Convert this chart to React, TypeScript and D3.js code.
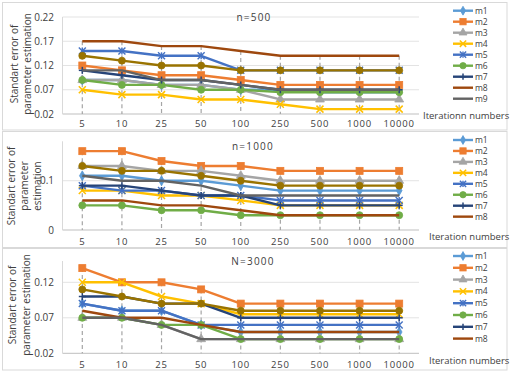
import React from "react";
import * as d3 from "d3";

const categories = ["5", "10", "25", "50", "100", "250", "500", "1000", "10000"];
const seriesNames = ["m1", "m2", "m3", "m4", "m5", "m6", "m7", "m8", "m9", "m10"];
const colors = ["#5B9BD5", "#ED7D31", "#A5A5A5", "#FFC000", "#4472C4", "#70AD47", "#264478", "#9E480E", "#636363", "#997300"];
const markers = ["diamond", "square", "triangle", "x", "star", "circle", "plus", "none", "none", "circle"];

// n = 500
const top_m1 = [0.09, 0.09, 0.08, 0.08, 0.07, 0.07, 0.065, 0.065, 0.065];
const top_m2 = [0.12, 0.11, 0.10, 0.10, 0.09, 0.08, 0.08, 0.08, 0.08];
const top_m3 = [0.09, 0.09, 0.08, 0.08, 0.07, 0.05, 0.05, 0.05, 0.05];
const top_m4 = [0.07, 0.06, 0.06, 0.05, 0.05, 0.04, 0.03, 0.03, 0.03];
const top_m5 = [0.15, 0.15, 0.14, 0.14, 0.11, 0.11, 0.11, 0.11, 0.11];
const top_m6 = [0.09, 0.08, 0.08, 0.07, 0.07, 0.065, 0.065, 0.065, 0.065];
const top_m7 = [0.11, 0.10, 0.09, 0.09, 0.08, 0.07, 0.07, 0.07, 0.07];
const top_m8 = [0.17, 0.17, 0.16, 0.16, 0.15, 0.14, 0.14, 0.14, 0.14];
const top_m9 = [0.11, 0.11, 0.09, 0.09, 0.08, 0.07, 0.07, 0.07, 0.07];
const top_m10 = [0.14, 0.13, 0.12, 0.12, 0.11, 0.11, 0.11, 0.11, 0.11];

// n = 1000
const mid_m1 = [0.11, 0.11, 0.10, 0.10, 0.09, 0.08, 0.08, 0.08, 0.08];
const mid_m2 = [0.16, 0.16, 0.14, 0.13, 0.13, 0.12, 0.12, 0.12, 0.12];
const mid_m3 = [0.13, 0.13, 0.12, 0.12, 0.11, 0.10, 0.10, 0.10, 0.10];
const mid_m4 = [0.08, 0.08, 0.07, 0.07, 0.06, 0.05, 0.05, 0.05, 0.05];
const mid_m5 = [0.09, 0.08, 0.08, 0.07, 0.07, 0.06, 0.06, 0.06, 0.06];
const mid_m6 = [0.05, 0.05, 0.04, 0.04, 0.03, 0.03, 0.03, 0.03, 0.03];
const mid_m7 = [0.09, 0.09, 0.08, 0.07, 0.07, 0.05, 0.05, 0.05, 0.05];
const mid_m8 = [0.06, 0.06, 0.05, 0.05, 0.04, 0.03, 0.03, 0.03, 0.03];
const mid_m9 = [0.11, 0.10, 0.10, 0.09, 0.07, 0.07, 0.07, 0.07, 0.07];
const mid_m10 = [0.13, 0.12, 0.12, 0.11, 0.10, 0.09, 0.09, 0.09, 0.09];

// N = 3000
const bot_m1 = [0.09, 0.08, 0.08, 0.06, 0.05, 0.05, 0.05, 0.05, 0.05];
const bot_m2 = [0.14, 0.12, 0.12, 0.11, 0.09, 0.09, 0.09, 0.09, 0.09];
const bot_m3 = [0.07, 0.07, 0.06, 0.04, 0.04, 0.04, 0.04, 0.04, 0.04];
const bot_m4 = [0.12, 0.12, 0.10, 0.09, 0.075, 0.075, 0.075, 0.075, 0.075];
const bot_m5 = [0.09, 0.08, 0.08, 0.06, 0.06, 0.06, 0.06, 0.06, 0.06];
const bot_m6 = [0.07, 0.07, 0.06, 0.06, 0.04, 0.04, 0.04, 0.04, 0.04];
const bot_m7 = [0.10, 0.10, 0.09, 0.09, 0.07, 0.07, 0.07, 0.07, 0.07];
const bot_m8 = [0.08, 0.07, 0.07, 0.06, 0.05, 0.05, 0.05, 0.05, 0.05];
const bot_m9 = [0.07, 0.07, 0.06, 0.04, 0.04, 0.04, 0.04, 0.04, 0.04];
const bot_m10 = [0.11, 0.10, 0.09, 0.09, 0.08, 0.08, 0.08, 0.08, 0.08];

const topTicks = [0.02, 0.07, 0.12, 0.17, 0.22];
const midTicks = [0, 0.1];
const botTicks = [0.02, 0.07, 0.12];

const FONT = "'Open Sans', sans-serif";

type Panel = {
  title: string;
  series: number[][];
  legendCount: number;
  yDomain: [number, number];
  yRange: [number, number];
  ticks: number[];
  tickFmt: (v: number) => string;
  box: [number, number];
  xLabelY: number;
  titleX: number;
  titleY: number;
  yTitleLines: string[];
  yTitleX: number[];
  yTitleCY: number;
  legendY0: number;
  legendStep: number;
  iterLabel: string;
  iterY: number;
  iterX: number;
};

const panels: Panel[] = [
  {
    title: "n=500",
    series: [top_m1, top_m2, top_m3, top_m4, top_m5, top_m6, top_m7, top_m8, top_m9, top_m10],
    legendCount: 9,
    yDomain: [0.02, 0.22],
    yRange: [114, 17],
    ticks: topTicks,
    tickFmt: (v) => v.toFixed(2),
    box: [2.5, 130],
    xLabelY: 127,
    titleX: 254,
    titleY: 21,
    yTitleLines: ["Standart error of", "parameter estimation"],
    yTitleX: [18, 31],
    yTitleCY: 64,
    legendY0: 10.7,
    legendStep: 11,
    iterLabel: "Iterationn numbers",
    iterY: 119,
    iterX: 423,
  },
  {
    title: "n=1000",
    series: [mid_m1, mid_m2, mid_m3, mid_m4, mid_m5, mid_m6, mid_m7, mid_m8, mid_m9, mid_m10],
    legendCount: 8,
    yDomain: [0, 0.18],
    yRange: [230, 141.3],
    ticks: midTicks,
    tickFmt: (v) => (v === 0 ? "0" : String(v)),
    box: [131.5, 247.5],
    xLabelY: 245,
    titleX: 253,
    titleY: 150,
    yTitleLines: ["Standart error of", "parameter", "estimation"],
    yTitleX: [15, 28, 41],
    yTitleCY: 186,
    legendY0: 140,
    legendStep: 10.95,
    iterLabel: "Iteration numbers",
    iterY: 240,
    iterX: 429,
  },
  {
    title: "N=3000",
    series: [bot_m1, bot_m2, bot_m3, bot_m4, bot_m5, bot_m6, bot_m7, bot_m8, bot_m9, bot_m10],
    legendCount: 8,
    yDomain: [0.02, 0.15],
    yRange: [353.3, 261],
    ticks: botTicks,
    tickFmt: (v) => v.toFixed(2),
    box: [248.5, 370],
    xLabelY: 368,
    titleX: 253,
    titleY: 265,
    yTitleLines: ["Standart error of", "parameter  estimation"],
    yTitleX: [16, 30],
    yTitleCY: 305,
    legendY0: 256,
    legendStep: 11.8,
    iterLabel: "Iteration numbers",
    iterY: 364,
    iterX: 429,
  },
];

const x = d3.scaleBand<string>().domain(categories).range([62.5, 419]).paddingInner(0).paddingOuter(0);
const cx = (c: string) => (x(c) as number) + x.bandwidth() / 2;

function Marker({ type, color, px, py, s = 1 }: { type: string; color: string; px: number; py: number; s?: number }) {
  const r = 3.5 * s;
  switch (type) {
    case "diamond":
      return <path d={d3.symbol(d3.symbolDiamond, 28 * s * s)() as string} transform={`translate(${px},${py})`} fill={color} stroke={color} strokeWidth={0.8} />;
    case "square":
      return <rect x={px - r} y={py - r} width={2 * r} height={2 * r} fill={color} stroke={color} strokeWidth={0.8} />;
    case "triangle":
      return <path d={d3.symbol(d3.symbolTriangle, 34 * s * s)() as string} transform={`translate(${px},${py})`} fill={color} stroke={color} strokeWidth={0.8} />;
    case "x":
      return (
        <g stroke={color} strokeWidth={1.5}>
          <line x1={px - r} y1={py - r} x2={px + r} y2={py + r} />
          <line x1={px - r} y1={py + r} x2={px + r} y2={py - r} />
        </g>
      );
    case "star":
      return (
        <g stroke={color} strokeWidth={1.4}>
          <line x1={px - r} y1={py - r} x2={px + r} y2={py + r} />
          <line x1={px - r} y1={py + r} x2={px + r} y2={py - r} />
          <line x1={px} y1={py - r} x2={px} y2={py + r} />
        </g>
      );
    case "circle":
      return <circle cx={px} cy={py} r={r} fill={color} stroke={color} strokeWidth={0.8} />;
    case "plus":
      return (
        <g stroke={color} strokeWidth={1.5}>
          <line x1={px - r} y1={py} x2={px + r} y2={py} />
          <line x1={px} y1={py - r} x2={px} y2={py + r} />
        </g>
      );
    default:
      return null;
  }
}

function ChartPanel({ p }: { p: Panel }) {
  const y = d3.scaleLinear().domain(p.yDomain).range(p.yRange);
  const line = d3
    .line<number>()
    .x((_, i) => cx(categories[i]))
    .y((v) => y(v));
  const [b0, b1] = p.box;
  const axisY = y(p.yDomain[0]);
  return (
    <g>
      <rect x={2.5} y={b0} width={504.5} height={b1 - b0} fill="#fff" stroke="#d9d9d9" strokeWidth={1} />
      {p.ticks.map((t) => (
        <line key={"g" + t} x1={62.5} x2={419} y1={y(t)} y2={y(t)} stroke={t === p.yDomain[0] ? "#bfbfbf" : "#e3e3e3"} strokeWidth={1} />
      ))}
      <line x1={62.5} x2={62.5} y1={p.yRange[1]} y2={axisY} stroke="#d9d9d9" strokeWidth={1} />
      {p.ticks.map((t) => (
        <text key={"t" + t} x={54} y={y(t)} dy="0.35em" textAnchor="end" fontSize={10} fontFamily={FONT} fill="#404040">
          {p.tickFmt(t)}
        </text>
      ))}
      {categories.map((c) => (
        <text key={"x" + c} x={cx(c)} y={p.xLabelY} textAnchor="middle" fontSize={9.5} letterSpacing={0.8} fontFamily={FONT} fill="#404040">
          {c}
        </text>
      ))}
      {categories.map((c, i) => {
        const mx = d3.max(p.series, (s) => s[i]) as number;
        return <line key={"d" + c} x1={cx(c)} x2={cx(c)} y1={y(mx)} y2={axisY} stroke="#a5a5a5" strokeWidth={1.2} strokeDasharray="4,3" />;
      })}
      {p.series.map((s, k) => (
        <g key={"s" + k}>
          <path d={line(s) as string} fill="none" stroke={colors[k]} strokeWidth={2.4} strokeLinejoin="round" />
          {s.map((v, i) => (
            <Marker key={i} type={markers[k]} color={colors[k]} px={cx(categories[i])} py={y(v)} />
          ))}
        </g>
      ))}
      <text x={p.titleX} y={p.titleY} textAnchor="middle" fontSize={10} letterSpacing={1.2} fontFamily={FONT} fill="#404040">
        {p.title}
      </text>
      {p.yTitleLines.map((ln, i) => (
        <text
          key={"yt" + i}
          transform={`translate(${p.yTitleX[i]},${p.yTitleCY}) rotate(-90)`}
          textAnchor="middle"
          fontSize={10}
          fontFamily={FONT}
          fill="#404040"
        >
          {ln}
        </text>
      ))}
      {seriesNames.slice(0, p.legendCount).map((n, k) => {
        const ly = p.legendY0 + k * p.legendStep;
        return (
          <g key={"l" + n}>
            <line x1={453} x2={473} y1={ly} y2={ly} stroke={colors[k]} strokeWidth={2.4} />
            <Marker type={markers[k]} color={colors[k]} px={463} py={ly} s={0.9} />
            <text x={475} y={ly} dy="0.35em" fontSize={8.5} fontFamily={FONT} fill="#404040">
              {n}
            </text>
          </g>
        );
      })}
      <text x={p.iterX} y={p.iterY} fontSize={9.5} fontFamily={FONT} fill="#404040">
        {p.iterLabel}
      </text>
    </g>
  );
}

export default function App() {
  return (
    <svg width={510} height={374} style={{ position: "absolute", left: 0, top: 0, background: "#fff" }}>
      {panels.map((p, i) => (
        <ChartPanel key={i} p={p} />
      ))}
    </svg>
  );
}
